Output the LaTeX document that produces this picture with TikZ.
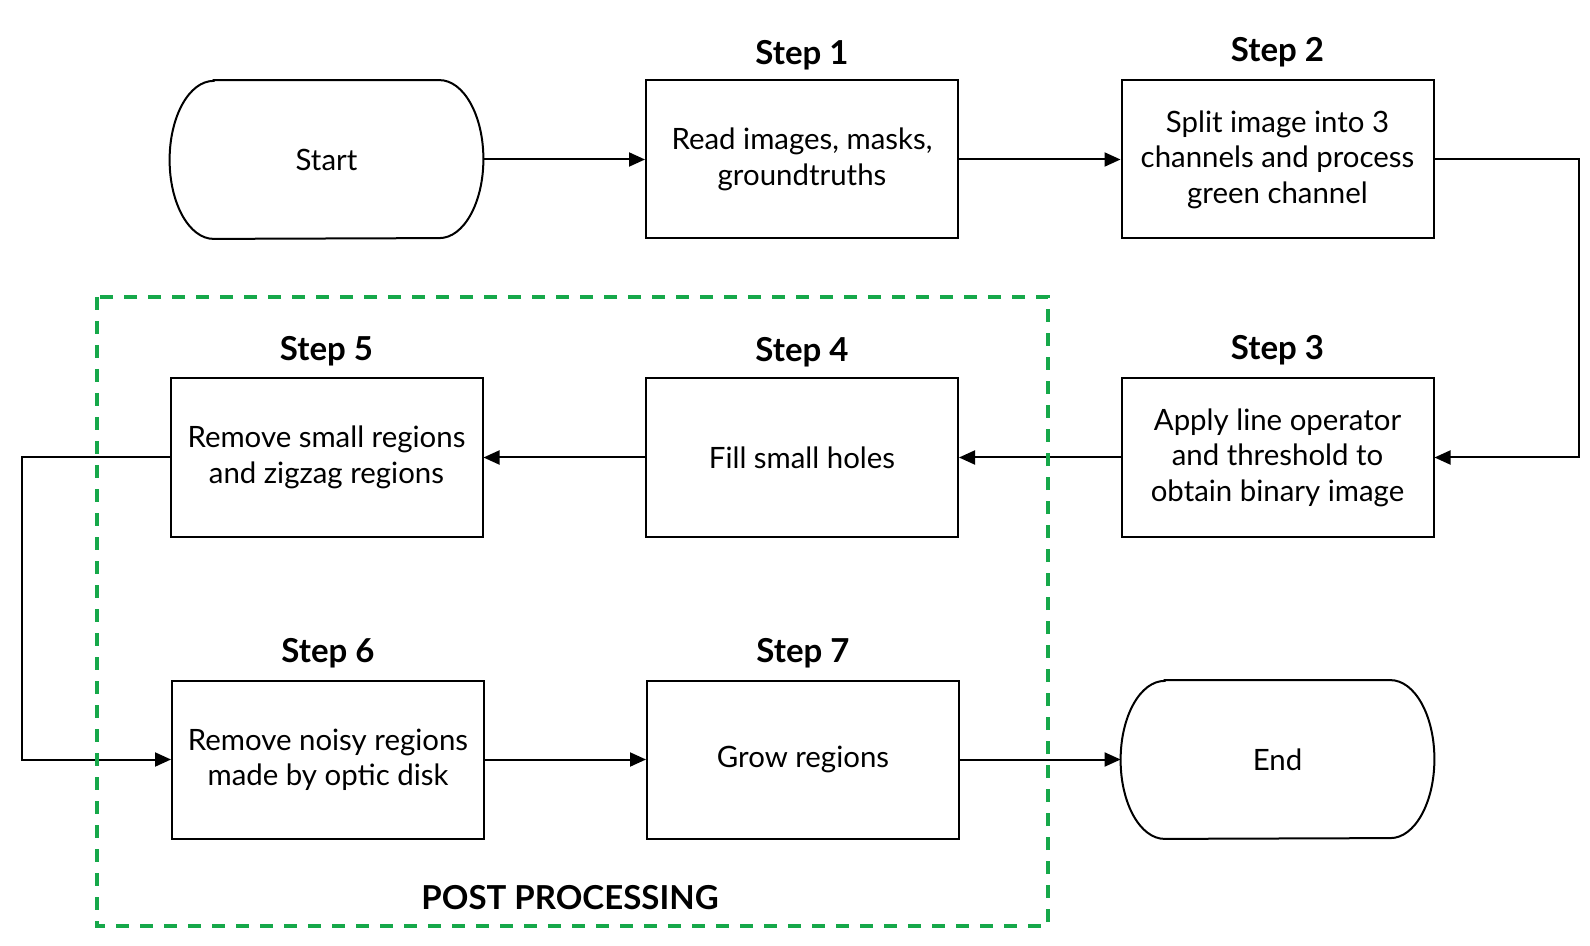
\documentclass[tikz,border=0pt]{standalone}
\usepackage{fontspec}
\setmainfont{Lato}
\usetikzlibrary{arrows.meta}
\definecolor{pgreen}{RGB}{22,168,74}
\begin{document}
\begin{tikzpicture}[x=0.5pt,y=-0.5pt,
 stepbox/.style={draw, line width=1pt, minimum width=156pt, minimum height=79pt, inner sep=0pt, align=center, font=\fontsize{14.7}{17.7}\selectfont},
 termbox/.style={minimum width=156.5pt, minimum height=79pt, inner sep=0pt, align=center, font=\fontsize{14.7}{17.7}\selectfont},
 ttl/.style={font=\fontsize{16.5}{19}\selectfont\bfseries},
 conn/.style={line width=1pt, -{Triangle[length=8pt,width=7pt]}}]
\useasboundingbox (0,0) rectangle (1590,946);
\newcommand\termshape[1]{%
 \draw[line width=1pt] ([xshift=22pt]#1.north west) -- ([xshift=-22pt]#1.north east)
   arc[start angle=90,end angle=-90,x radius=22pt,y radius=39.5pt]
   -- ([xshift=22pt]#1.south west)
   arc[start angle=270,end angle=90,x radius=22pt,y radius=39.5pt] -- cycle;}
% nodes
\node[termbox] (start) at (326.5,159.5) {Start};
\termshape{start}
\node[stepbox] (s1) at (802,159.5) {Read images, masks,\\groundtruths};
\node[stepbox] (s2) at (1277.5,159.5) {Split image into 3\\channels and process\\green channel};
\node[stepbox] (s3) at (1277.5,457.5) {Apply line operator\\and threshold to\\obtain binary image};
\node[stepbox] (s4) at (802,457.5) {Fill small holes};
\node[stepbox] (s5) at (326.5,457.5) {Remove small regions\\and zigzag regions};
\node[stepbox] (s6) at (328,759.5) {Remove noisy regions\\made by optic disk};
\node[stepbox] (s7) at (803,759.5) {Grow regions};
\node[termbox] (end) at (1277.5,759.5) {End};
\termshape{end}
% titles
\node[ttl] (t1) at (802,55) {Step 1};
\node[ttl] (t2) at (1277.5,52) {Step 2};
\node[ttl] (t3) at (1277.5,350) {Step 3};
\node[ttl] (t4) at (802,352) {Step 4};
\node[ttl] (t5) at (326.5,351) {Step 5};
\node[ttl] (t6) at (328,653) {Step 6};
\node[ttl] (t7) at (803,653) {Step 7};
% connectors
\coordinate (rt) at (1579,0);
\coordinate (lt) at (22,0);
\draw[conn] (start) -- (s1);
\draw[conn] (s1) -- (s2);
\draw[conn] (s2.east) -- (s2.east -| rt) |- (s3.east);
\draw[conn] (s3) -- (s4);
\draw[conn] (s4) -- (s5);
\draw[conn] (s5.west) -- (s5.west -| lt) |- (s6.west);
\draw[conn] (s6) -- (s7);
\draw[conn] (s7) -- (end);
% post-processing frame
\draw[pgreen, line width=2pt, dash pattern=on 6.5pt off 5.5pt] (97,297) rectangle (1048,926);
\node[ttl] (pp) at (570,898) {POST PROCESSING};
\end{tikzpicture}
\end{document}
